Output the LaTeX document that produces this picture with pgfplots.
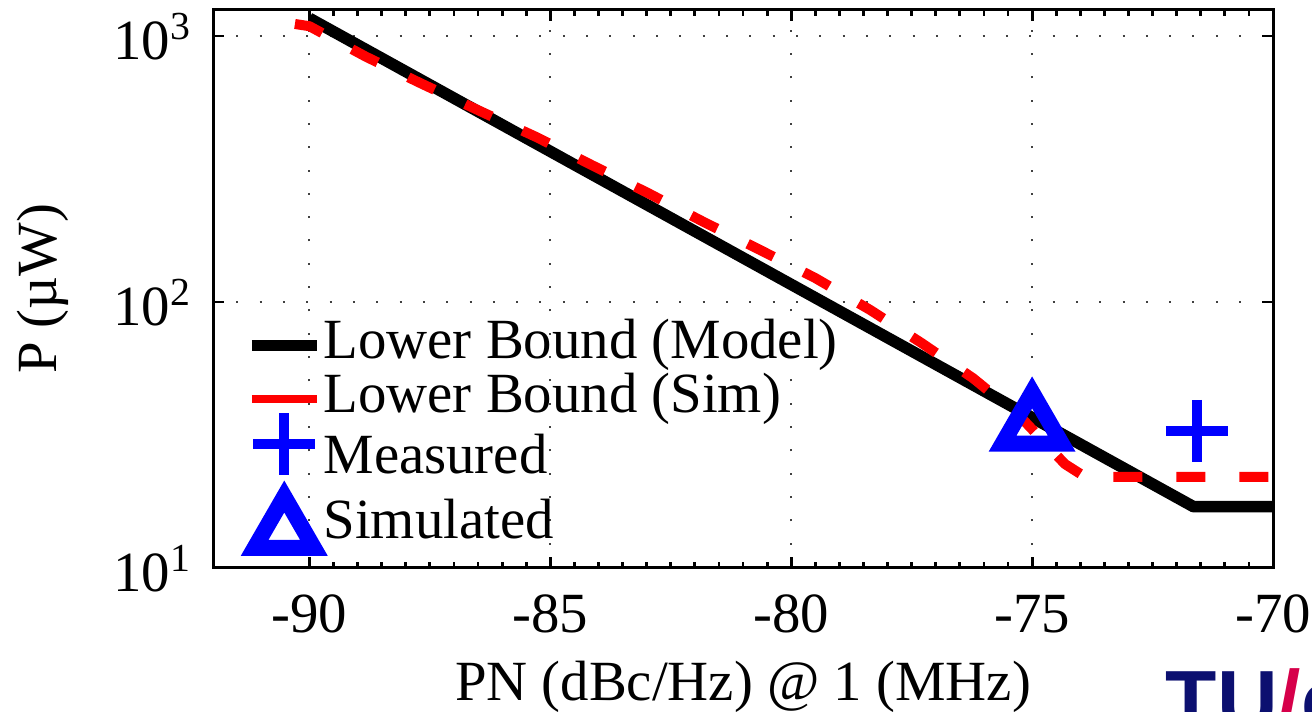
\documentclass[border=0pt]{standalone}
\usepackage{pgfplots}
\pgfplotsset{compat=1.18}
\usepackage{fontspec}
\setmainfont{Liberation Serif}
\newfontfamily\logofont{Liberation Sans}
\definecolor{tuenavy}{RGB}{12,16,112}
\definecolor{tuered}{RGB}{214,0,74}
\pgfplotsset{
  lineleg/.style={legend image code/.code={\draw[##1, solid, line width=#1] (0pt,0pt) -- (16.25pt,0pt);}},
  markleg/.style={legend image code/.code={\path[draw=none, fill=none] (0pt,0pt) -- (16.25pt,0pt); \draw[##1, overlay] plot coordinates {(8.125pt,#1)};}},
}
\begin{document}
\begin{tikzpicture}[font=\fontsize{14.2pt}{17pt}\selectfont]
\path[use as bounding box] (-53.25pt,-36pt) rectangle (274.75pt,142pt);
\begin{axis}[
  scale only axis, width=265pt, height=139.5pt,
  at={(0,0)}, anchor=south west,
  xmin=-92, xmax=-70, ymode=log, ymin=10, ymax=1252,
  xtick={-90,-85,-80,-75,-70}, xticklabels={-90,-85,-80,-75,-70},
  minor x tick num=9,
  ytick={10,100,1000},
  yticklabels={10\textsuperscript{1},10\textsuperscript{2},10\textsuperscript{3}},
  yminorticks=false,
  grid=major,
  major grid style={line width=0.5pt, black!75, dash pattern=on 0.5pt off 5.33pt},
  tick align=inside,
  major tick length=2.75pt, minor tick length=1.4pt,
  axis line style={line width=0.75pt},
  every tick/.style={black, line width=0.7pt},
  xticklabel style={anchor=base, yshift=-16.25pt, inner sep=0pt},
  yticklabel style={anchor=base east, yshift=-6pt, xshift=-5pt, inner sep=0pt},
  xlabel={PN (dBc/Hz) @ 1 (MHz)},
  ylabel={P (\textmu W)},
  xlabel style={at={(axis description cs:0.5,-0.2366)}, anchor=base, inner sep=0pt},
  ylabel style={at={(axis description cs:-0.1472,0.5)}, anchor=base, inner sep=0pt},
  legend cell align=left,
  legend style={at={(0.0311,0.4463)}, anchor=north west, inner sep=0pt, outer sep=0pt,
    draw=none, fill=none, row sep=0pt, column sep=0.25pt,
    nodes={inner sep=0pt, text height=10pt, text depth=3.3pt}},
]
\addplot[black, line width=2.9pt, line join=round, lineleg=2.9pt]
  coordinates {(-90,1165) (-71.65,17.0) (-70,17.0)};
\addlegendentry{Lower Bound (Model)}
\addplot[red, line width=2.5pt, dash pattern=on 7.25pt off 8.5pt, line join=round, lineleg=2.1pt]
  coordinates {(-90.3,1109) (-90,1088) (-88.83,836) (-87.66,660) (-86.48,524)
    (-85.28,416) (-84.14,327) (-82.96,256) (-81.82,200) (-80.65,157)
    (-79.5,123) (-78.36,93.3) (-77.29,70.0) (-76.22,51.6) (-75.25,37.1)
    (-74.32,24.6) (-73.9,22.0) (-70,22.0)};
\addlegendentry{Lower Bound (Sim)}
\addplot[only marks, blue, mark=+, mark size=7.75pt,
  mark options={line width=2.5pt}, markleg=3pt]
  coordinates {(-71.58,32.8)};
\addlegendentry[text height=12.12pt]{Measured}
\addplot[only marks, blue, mark=triangle, mark size=8.55pt,
  mark options={line width=4pt, line join=miter}, markleg=-2.8pt]
  coordinates {(-75,34)};
\addlegendentry[text height=12.95pt]{Simulated}
\end{axis}
\node[anchor=base west, inner sep=0pt, font=\fontsize{21pt}{21pt}\logofont\bfseries]
  at (238pt,-40.5pt) {\textcolor{tuenavy}{TU}\textcolor{tuered}{/}\textcolor{tuenavy}{e}};
\end{tikzpicture}
\end{document}
